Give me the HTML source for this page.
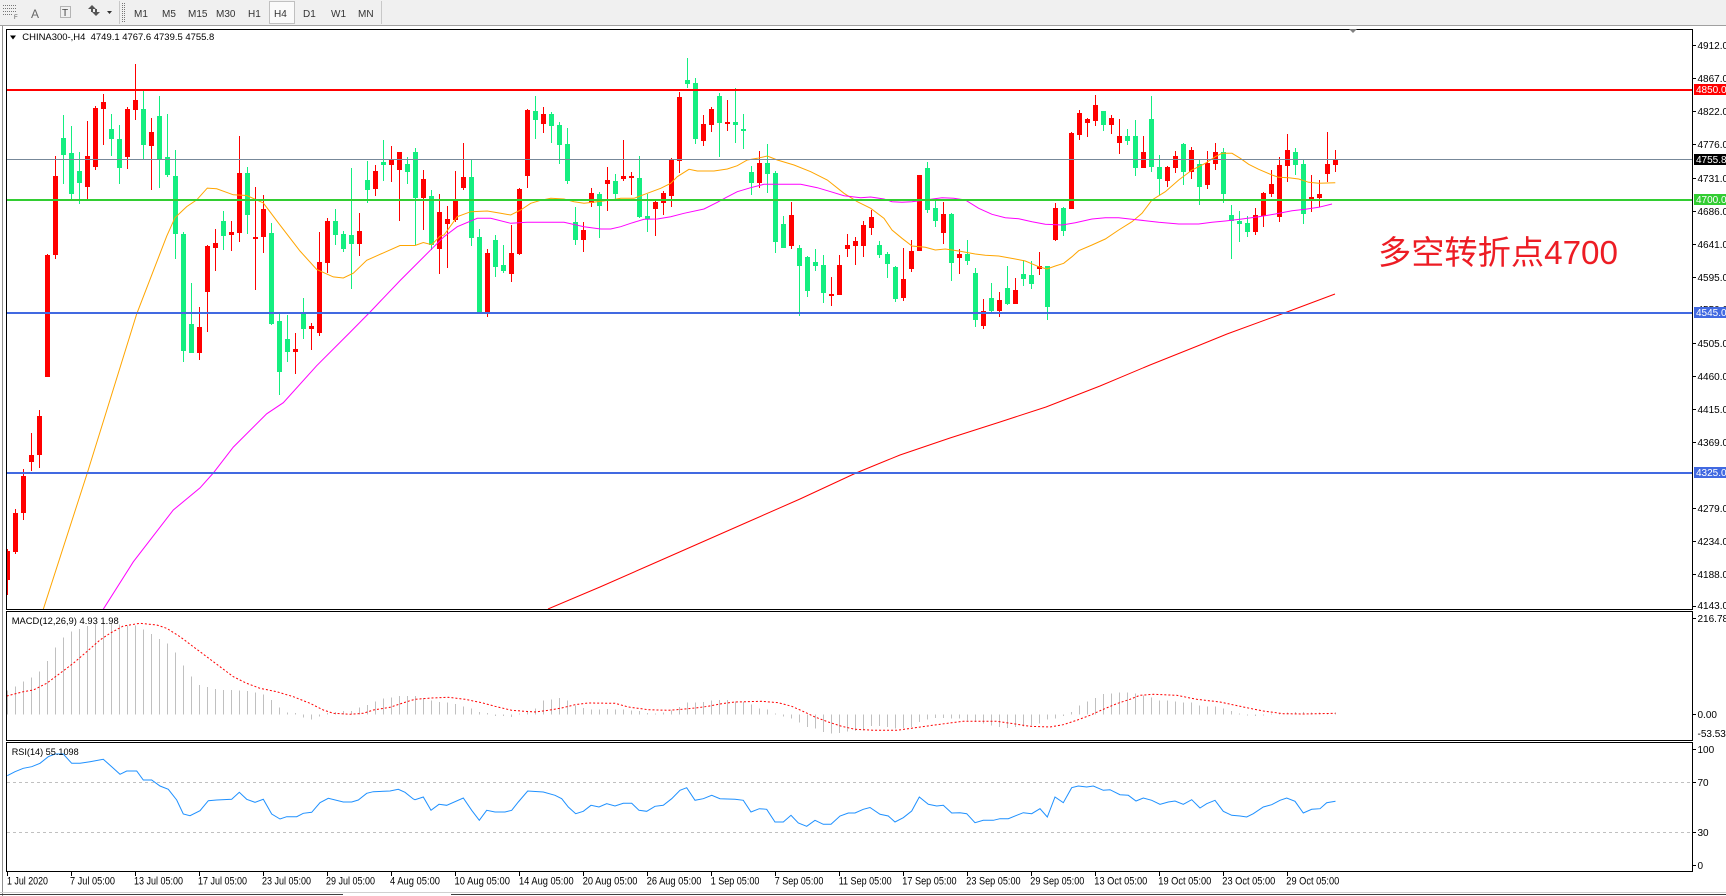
<!DOCTYPE html>
<html><head><meta charset="utf-8"><style>
html,body{margin:0;padding:0;background:#fff;}
body{width:1726px;height:896px;overflow:hidden;}
svg{display:block;font-family:"Liberation Sans","Noto Sans CJK SC",sans-serif;}
</style></head><body>
<svg width="1726" height="896" viewBox="0 0 1726 896" xmlns="http://www.w3.org/2000/svg">
<defs>
<clipPath id="cm"><rect x="7" y="30" width="1685" height="579"/></clipPath>
<clipPath id="cd"><rect x="7" y="612" width="1685" height="128"/></clipPath>
<clipPath id="cr"><rect x="7" y="743" width="1685" height="128"/></clipPath>
</defs>
<rect x="0" y="0" width="1726" height="896" fill="#fff"/>
<!-- toolbar -->
<rect x="0" y="0" width="1726" height="25" fill="#f0f0f0"/>
<line x1="0" y1="25.5" x2="1726" y2="25.5" stroke="#a0a0a0"/>
<g stroke="#777" stroke-dasharray="1 1" shape-rendering="crispEdges">
<line x1="3" y1="5.5" x2="16" y2="5.5"/><line x1="3" y1="8.5" x2="16" y2="8.5"/><line x1="3" y1="11.5" x2="16" y2="11.5"/><line x1="3" y1="14.5" x2="12" y2="14.5"/>
<rect x="60.5" y="6.5" width="10" height="11" fill="none"/>
<line x1="122.5" y1="3" x2="122.5" y2="22"/><line x1="124.5" y1="3" x2="124.5" y2="22"/>
</g>
<text x="14" y="19" font-size="6" fill="#555">F</text>
<text x="31" y="18" font-size="12" fill="#666">A</text>
<text x="62" y="16" font-size="10" fill="#444">T</text>
<path d="M88 9l4-4 4 4h-3v3h-2v-3z M92 12l4 4 4-4h-3v-3h-2v3z" fill="#555"/>
<path d="M107 11h5l-2.5 3z" fill="#333"/>
<line x1="119.5" y1="1" x2="119.5" y2="24" stroke="#c8c8c8"/>
<rect x="269.5" y="1.5" width="25" height="22" fill="#fafafa" stroke="#c0c0c0"/>
<line x1="381.5" y1="1" x2="381.5" y2="24" stroke="#c8c8c8"/>
<g font-size="10" fill="#333">
<text x="134" y="17">M1</text><text x="162" y="17">M5</text><text x="188" y="17">M15</text><text x="216" y="17">M30</text>
<text x="248" y="17">H1</text><text x="274" y="17">H4</text><text x="303" y="17">D1</text><text x="331" y="17">W1</text><text x="358" y="17">MN</text>
</g>
<!-- frames -->
<line x1="2.5" y1="26" x2="2.5" y2="896" stroke="#909090"/>
<g fill="none" stroke="#000" shape-rendering="crispEdges">
<rect x="6.5" y="29.5" width="1686" height="580"/>
<rect x="6.5" y="611.5" width="1686" height="129"/>
<rect x="6.5" y="742.5" width="1686" height="129"/>
</g>
<line x1="0" y1="892.5" x2="1726" y2="892.5" stroke="#d0d0d0"/>
<line x1="0" y1="894.5" x2="343" y2="894.5" stroke="#404040"/>
<line x1="451" y1="894.5" x2="1726" y2="894.5" stroke="#404040"/>

<!-- main chart -->
<g clip-path="url(#cm)">
<g shape-rendering="crispEdges">
<path fill="none" stroke="#ff0000" stroke-width="1" d="M7.5 549V595M15.5 509V554M23.5 469V520M31.5 433V471M39.5 410V468M47.5 254V377M55.5 156V259M87.5 121V199M95.5 106V170M103.5 94V145M127.5 107V169M135.5 64V120M151.5 118V190M199.5 307V360M207.5 245V332M215.5 229V271M231.5 221V251M239.5 136V242M255.5 187V290M263.5 195V253M295.5 333V374M311.5 323V350M319.5 232V336M327.5 218V273M359.5 213V256M375.5 165V196M391.5 146V182M399.5 152V221M423.5 170V230M439.5 194V274M447.5 206V268M455.5 171V222M463.5 143V190M487.5 249V317M511.5 225V282M519.5 188V255M527.5 109V188M543.5 107V133M583.5 222V252M591.5 188V207M607.5 167V211M623.5 140V181M631.5 172V195M655.5 200V236M663.5 191V215M671.5 158V207M679.5 92V173M703.5 115V146M711.5 107V132M727.5 100V131M759.5 151V188M791.5 202V249M831.5 277V306M839.5 255V295M847.5 234V257M855.5 237V265M863.5 221V257M871.5 210V235M903.5 248V301M911.5 240V272M919.5 175V251M943.5 202V244M959.5 249V274M983.5 299V329M999.5 292V317M1015.5 278V304M1039.5 252V275M1055.5 203V241M1071.5 132V209M1079.5 110V140M1087.5 118V137M1095.5 95V126M1111.5 115V134M1119.5 119V154M1143.5 136V168M1167.5 166V187M1175.5 151V173M1191.5 147V179M1207.5 151V189M1215.5 143V170M1255.5 208V235M1263.5 192V227M1271.5 170V197M1279.5 157V222M1287.5 134V182M1311.5 175V212M1319.5 180V207M1327.5 132V182M1335.5 150V172"/>
<path fill="#ff0000" d="M5 551h5v29h-5zM13 513h5v39h-5zM21 476h5v37h-5zM29 455h5v7h-5zM37 416h5v39h-5zM45 255h5v122h-5zM53 176h5v79h-5zM85 156h5v31h-5zM93 108h5v59h-5zM101 102h5v7h-5zM125 109h5v48h-5zM133 100h5v10h-5zM149 132h5v14h-5zM197 327h5v26h-5zM205 246h5v46h-5zM213 243h5v5h-5zM229 232h5v3h-5zM237 173h5v60h-5zM253 237h5v2h-5zM261 209h5v28h-5zM293 349h5v3h-5zM309 326h5v3h-5zM317 262h5v71h-5zM325 221h5v42h-5zM357 231h5v13h-5zM373 171h5v18h-5zM389 160h5v5h-5zM397 152h5v18h-5zM421 179h5v19h-5zM437 212h5v37h-5zM445 219h5v5h-5zM453 200h5v20h-5zM461 177h5v11h-5zM485 253h5v60h-5zM509 253h5v21h-5zM517 189h5v65h-5zM525 110h5v66h-5zM541 114h5v10h-5zM581 230h5v10h-5zM589 193h5v10h-5zM605 180h5v4h-5zM621 176h5v3h-5zM629 176h5v2h-5zM653 202h5v7h-5zM661 193h5v10h-5zM669 160h5v36h-5zM677 97h5v64h-5zM701 124h5v17h-5zM709 109h5v16h-5zM725 122h5v2h-5zM757 163h5v20h-5zM789 215h5v31h-5zM829 294h5v2h-5zM837 265h5v30h-5zM845 245h5v4h-5zM853 241h5v5h-5zM861 225h5v21h-5zM869 217h5v11h-5zM901 279h5v19h-5zM909 251h5v18h-5zM917 175h5v76h-5zM941 214h5v19h-5zM957 254h5v4h-5zM981 311h5v15h-5zM997 300h5v11h-5zM1013 290h5v14h-5zM1037 266h5v3h-5zM1053 208h5v32h-5zM1069 133h5v76h-5zM1077 113h5v22h-5zM1085 119h5v4h-5zM1093 105h5v16h-5zM1109 118h5v7h-5zM1117 136h5v7h-5zM1141 152h5v16h-5zM1165 167h5v14h-5zM1173 156h5v12h-5zM1189 150h5v22h-5zM1205 163h5v22h-5zM1213 152h5v12h-5zM1253 215h5v17h-5zM1261 193h5v23h-5zM1269 184h5v10h-5zM1277 165h5v52h-5zM1285 150h5v16h-5zM1309 197h5v4h-5zM1317 194h5v4h-5zM1325 164h5v10h-5zM1333 159h5v6h-5z"/>
<path fill="none" stroke="#14ee80" stroke-width="1" d="M63.5 115V184M71.5 126V199M79.5 152V204M111.5 114V156M119.5 125V184M143.5 91V159M159.5 96V188M167.5 114V177M175.5 150V259M183.5 232V362M191.5 283V353M223.5 211V250M247.5 167V234M271.5 223V325M279.5 314V395M287.5 315V362M303.5 298V339M335.5 209V245M343.5 231V252M351.5 168V289M367.5 161V203M383.5 140V181M407.5 157V184M415.5 148V245M431.5 190V250M471.5 160V246M479.5 229V313M495.5 235V277M503.5 245V273M535.5 96V139M551.5 112V143M559.5 122V164M567.5 128V184M575.5 207V245M599.5 192V238M615.5 174V199M639.5 156V218M647.5 194V232M687.5 58V88M695.5 78V144M719.5 93V157M735.5 88V143M743.5 114V149M751.5 166V195M767.5 144V193M775.5 171V253M783.5 216V248M799.5 245V316M807.5 256V297M815.5 249V271M823.5 255V303M879.5 241V258M887.5 252V278M895.5 266V302M927.5 162V213M935.5 201V227M951.5 213V281M967.5 240V265M975.5 268V327M991.5 283V312M1007.5 266V305M1023.5 260V286M1031.5 261V289M1047.5 266V320M1063.5 207V236M1103.5 111V131M1127.5 129V145M1135.5 120V176M1151.5 96V172M1159.5 155V195M1183.5 143V185M1199.5 160V205M1223.5 148V203M1231.5 205V259M1239.5 211V242M1247.5 216V237M1295.5 148V175M1303.5 160V224"/>
<path fill="#14ee80" d="M61 138h5v17h-5zM69 153h5v41h-5zM77 171h5v12h-5zM109 129h5v10h-5zM117 139h5v29h-5zM141 109h5v36h-5zM157 116h5v43h-5zM165 157h5v18h-5zM173 176h5v58h-5zM181 234h5v117h-5zM189 324h5v29h-5zM221 221h5v15h-5zM245 173h5v42h-5zM269 233h5v91h-5zM277 321h5v51h-5zM285 339h5v13h-5zM301 313h5v16h-5zM333 221h5v14h-5zM341 234h5v15h-5zM349 235h5v9h-5zM365 180h5v10h-5zM381 162h5v3h-5zM405 164h5v8h-5zM413 152h5v46h-5zM429 196h5v49h-5zM469 177h5v61h-5zM477 237h5v76h-5zM493 240h5v27h-5zM501 265h5v6h-5zM533 111h5v9h-5zM549 114h5v12h-5zM557 125h5v20h-5zM565 144h5v37h-5zM573 222h5v18h-5zM597 194h5v12h-5zM613 181h5v13h-5zM637 178h5v39h-5zM645 216h5v3h-5zM685 80h5v4h-5zM693 83h5v56h-5zM717 96h5v27h-5zM733 122h5v3h-5zM741 129h5v2h-5zM749 172h5v11h-5zM765 163h5v11h-5zM773 173h5v69h-5zM781 224h5v24h-5zM797 248h5v18h-5zM805 257h5v34h-5zM813 262h5v4h-5zM821 265h5v28h-5zM877 245h5v10h-5zM885 254h5v10h-5zM893 267h5v32h-5zM925 168h5v42h-5zM933 208h5v13h-5zM949 214h5v49h-5zM965 254h5v7h-5zM973 273h5v47h-5zM989 298h5v13h-5zM1005 288h5v16h-5zM1021 274h5v5h-5zM1029 275h5v9h-5zM1045 266h5v41h-5zM1061 208h5v23h-5zM1101 111h5v14h-5zM1125 136h5v5h-5zM1133 136h5v32h-5zM1149 119h5v48h-5zM1157 167h5v12h-5zM1181 144h5v28h-5zM1197 164h5v23h-5zM1221 152h5v42h-5zM1229 215h5v6h-5zM1237 221h5v3h-5zM1245 223h5v9h-5zM1293 152h5v13h-5zM1301 164h5v50h-5z"/>
</g>
<polyline fill="none" stroke="#ffa500" stroke-width="1" points="43.3,609.2 87.3,473 136.7,313.9 166.7,236.2 175,217.7 186.7,206.6 196.7,199.9 207.3,188.1 216.7,188.8 233.3,194.8 246.7,195.5 263.3,202.9 280,225.1 300,251 316.7,269.5 333.3,276.9 343.3,278 353.3,273.2 366.7,260.3 383.3,252.9 400,245.5 415,245.5 423.3,242.5 431.7,244.7 440,236.2 444,235 457.3,216.7 470.7,211.7 487.3,211 500.7,213.3 510.7,215 520.7,210 530.7,203.3 540.7,200.3 550.7,198.3 564,199 574,201.7 584,203.3 597.3,201.7 610.7,200 620.7,198.3 634,198.3 647.3,193.3 660.7,188.3 670.7,183.3 677.3,176.7 689,169.3 697.3,171 714,171 727.3,169 737.3,165.7 747.3,160 757.3,158.3 767.3,156 777.3,160 794,165 810.7,171.7 827.3,180 844,193.3 857.3,201.7 870.7,208.3 884,218.3 892,230 902,238.3 912,246 925.3,247.3 935.3,250 945.3,249 958.7,251 975.3,254 985.3,255.3 998.7,256 1015.3,259 1025.3,261 1038.7,266.7 1047,269 1055.3,266 1063.7,263.3 1072,256.7 1078.7,250.7 1092,245 1105.3,239 1118.7,230 1132,221.7 1142,213.3 1152,200 1165.3,191.7 1178.7,180 1192,170 1205.3,163.3 1215.3,156.7 1222,153.3 1232,153.3 1240.3,158.3 1248.7,164.3 1258.7,169.3 1272,175 1278.7,177.3 1288.7,177.7 1298.7,179 1308.7,182.3 1318.7,183.3 1335.3,182.7"/>
<polyline fill="none" stroke="#ff00ff" stroke-width="1" points="103.3,609.2 133.3,561.8 173.3,510 200,487.9 213.3,473 233.3,447.1 266.7,413.8 283.3,402.7 316.7,365.7 350,332.4 370,312.1 400,280.6 433.3,247.3 444,236.7 457.3,226.7 477.3,218.3 490.7,218.3 510.7,223.3 527.3,222.3 564,222.3 584,226.7 600.7,229 610.7,229 620.7,226.7 630.7,223.3 644,219.3 657.3,219 670.7,216.7 684,213.3 704,209 717.3,202.3 725.7,197.7 737.3,191.7 750.7,187.7 764,184.3 777.3,184.3 800.7,184.3 817.3,187.7 830.7,191.7 844,195.7 860.7,197.7 870.7,197 884,199 892,201.7 902,202.3 912,201.7 925.3,200 942,197.7 953.7,198.3 965.3,200 978.7,208.3 992,214.3 1005.3,217.7 1018.7,218.7 1032,221.7 1045.3,224.3 1062,225 1075.3,222.7 1092,219 1105.3,217.7 1118.7,217.7 1132,219.3 1145.3,220.7 1158.7,222.3 1178.7,224 1198.7,224 1212,222.3 1225.3,221 1242,219 1258.7,216.7 1275.3,214 1292,210.7 1305.3,209.3 1318.7,207.3 1332,204"/>
<polyline fill="none" stroke="#ff0000" stroke-width="1" points="548,609 600,587 650,565 700,543 750,521 800,499 856,473 900,455 950,438 1000,422 1046,407 1100,386 1150,365 1200,345 1227,334 1287,312 1335,294"/>
<g shape-rendering="crispEdges">
<line x1="7" y1="159.5" x2="1692" y2="159.5" stroke="#778899" stroke-width="1"/>
<line x1="7" y1="90" x2="1692" y2="90" stroke="#ff0000" stroke-width="2"/>
<line x1="7" y1="200" x2="1692" y2="200" stroke="#32cd32" stroke-width="2"/>
<line x1="7" y1="313" x2="1692" y2="313" stroke="#4169e1" stroke-width="2"/>
<line x1="7" y1="473" x2="1692" y2="473" stroke="#4169e1" stroke-width="2"/>
</g>
</g>
<path d="M1349 29h8l-4 4z" fill="#808080"/>
<path d="M10 35.5h6l-3 4z" fill="#000"/>
<text x="22.3" y="40" font-size="9.5" fill="#000" textLength="192" lengthAdjust="spacingAndGlyphs" style="white-space:pre">CHINA300-,H4  4749.1 4767.6 4739.5 4755.8</text>
<text x="1378" y="264" font-size="33" fill="#ed1c24" textLength="240" lengthAdjust="spacingAndGlyphs">多空转折点4700</text>

<!-- right axis main -->
<g stroke="#000" shape-rendering="crispEdges">
<path d="M1693 45.5h3M1693 78.5h3M1693 111.5h3M1693 144.5h3M1693 178.5h3M1693 211.5h3M1693 244.5h3M1693 277.5h3M1693 343.5h3M1693 376.5h3M1693 409.5h3M1693 442.5h3M1693 508.5h3M1693 541.5h3M1693 574.5h3M1693 606.5h3M1693 618.5h3M1693 714.5h3M1693 749.5h3M1693 782.5h3M1693 832.5h3M1693 865.5h3"/>
</g>
<g font-size="10" fill="#000">
<text x="1697.5" y="49">4912.0</text><text x="1697.5" y="82">4867.0</text><text x="1697.5" y="115">4822.0</text><text x="1697.5" y="148">4776.0</text>
<text x="1697.5" y="182">4731.0</text><text x="1697.5" y="215">4686.0</text><text x="1697.5" y="248">4641.0</text><text x="1697.5" y="281">4595.0</text>
<text x="1697.5" y="313">4550.0</text>
<text x="1697.5" y="347">4505.0</text><text x="1697.5" y="380">4460.0</text><text x="1697.5" y="413">4415.0</text><text x="1697.5" y="446">4369.0</text>
<text x="1697.5" y="512">4279.0</text><text x="1697.5" y="545">4234.0</text><text x="1697.5" y="578">4188.0</text><text x="1697.5" y="609">4143.0</text>
<text x="1697.5" y="622">216.78</text><text x="1697.5" y="718">0.00</text><text x="1697.5" y="737">-53.53</text>
<text x="1697.5" y="753">100</text><text x="1697.5" y="786">70</text><text x="1697.5" y="836">30</text><text x="1697.5" y="869">0</text>
</g>
<g shape-rendering="crispEdges">
<rect x="1694" y="84" width="32" height="11" fill="#ff0000"/>
<rect x="1694" y="154" width="32" height="11" fill="#000"/>
<rect x="1694" y="194" width="32" height="11" fill="#32cd32"/>
<rect x="1694" y="307" width="32" height="11" fill="#4169e1"/>
<rect x="1694" y="467" width="32" height="11" fill="#4169e1"/>
</g>
<g font-size="10" fill="#fff">
<text x="1696" y="93">4850.0</text><text x="1696" y="163">4755.8</text><text x="1696" y="203">4700.0</text><text x="1696" y="316">4545.0</text><text x="1696" y="476">4325.0</text>
</g>

<!-- MACD -->
<g clip-path="url(#cd)">
<path fill="none" stroke="#c0c0c0" stroke-width="1" shape-rendering="crispEdges" d="M7.5 714.5V690.7M15.5 714.5V686.7M23.5 714.5V681.7M31.5 714.5V677.7M39.5 714.5V671.7M47.5 714.5V661M55.5 714.5V647.7M63.5 714.5V637.3M71.5 714.5V631.7M79.5 714.5V629M87.5 714.5V626M95.5 714.5V624M103.5 714.5V623.3M111.5 714.5V624M119.5 714.5V624.3M127.5 714.5V625.3M135.5 714.5V625.7M143.5 714.5V629.3M151.5 714.5V634M159.5 714.5V639M167.5 714.5V643.3M175.5 714.5V652.7M183.5 714.5V665.7M191.5 714.5V676.7M199.5 714.5V685M207.5 714.5V687M215.5 714.5V689M223.5 714.5V690M231.5 714.5V690M239.5 714.5V690.7M247.5 714.5V691M255.5 714.5V692.7M263.5 714.5V694.3M271.5 714.5V700M279.5 714.5V707.7M287.5 714.5V712.7M295.5 714.5V713M303.5 714.5V717.3M311.5 714.5V719.3M319.5 714.5V716.7M327.5 714.5V713M335.5 714.5V712M343.5 714.5V711M351.5 714.5V711M359.5 714.5V707.7M367.5 714.5V705M375.5 714.5V701.7M383.5 714.5V698.7M391.5 714.5V697.3M399.5 714.5V696M407.5 714.5V696M415.5 714.5V696M423.5 714.5V698M431.5 714.5V700.3M439.5 714.5V702M447.5 714.5V702.7M455.5 714.5V704M463.5 714.5V706.3M471.5 714.5V708.7M479.5 714.5V712M487.5 714.5V713.2M495.5 714.5V716M503.5 714.5V716M511.5 714.5V717M519.5 714.5V713.5M527.5 714.5V711.3M535.5 714.5V708.3M543.5 714.5V700.3M551.5 714.5V699.3M559.5 714.5V698M567.5 714.5V700.3M575.5 714.5V705.3M583.5 714.5V708M591.5 714.5V709.3M599.5 714.5V709.7M607.5 714.5V709M615.5 714.5V709.7M623.5 714.5V709.7M631.5 714.5V710.7M639.5 714.5V711M647.5 714.5V713M655.5 714.5V713.5M663.5 714.5V712.7M671.5 714.5V710.7M679.5 714.5V707M687.5 714.5V702.7M695.5 714.5V702.7M703.5 714.5V702M711.5 714.5V700.7M719.5 714.5V700M727.5 714.5V700M735.5 714.5V701.3M743.5 714.5V702M751.5 714.5V704.7M759.5 714.5V708.7M767.5 714.5V709.7M775.5 714.5V713.5M783.5 714.5V716.7M791.5 714.5V718.7M799.5 714.5V722.7M807.5 714.5V727M815.5 714.5V728.7M823.5 714.5V732M831.5 714.5V733.7M839.5 714.5V733M847.5 714.5V731.3M855.5 714.5V731M863.5 714.5V730.3M871.5 714.5V726M879.5 714.5V726M887.5 714.5V727M895.5 714.5V728.7M903.5 714.5V728M911.5 714.5V727M919.5 714.5V722M927.5 714.5V719.3M935.5 714.5V718M943.5 714.5V718M951.5 714.5V718.7M959.5 714.5V718.7M967.5 714.5V720.3M975.5 714.5V722M983.5 714.5V723.7M991.5 714.5V725.3M999.5 714.5V727M1007.5 714.5V728M1015.5 714.5V727M1023.5 714.5V726.3M1031.5 714.5V725.3M1039.5 714.5V723.7M1047.5 714.5V719.7M1055.5 714.5V718.7M1063.5 714.5V715.8M1071.5 714.5V712M1079.5 714.5V705.3M1087.5 714.5V701.3M1095.5 714.5V698M1103.5 714.5V694M1111.5 714.5V693.3M1119.5 714.5V692.3M1127.5 714.5V692.3M1135.5 714.5V693.7M1143.5 714.5V695.3M1151.5 714.5V697.3M1159.5 714.5V700.3M1167.5 714.5V700.7M1175.5 714.5V701.3M1183.5 714.5V702.7M1191.5 714.5V702.7M1199.5 714.5V705.3M1207.5 714.5V706.3M1215.5 714.5V706.7M1223.5 714.5V708.7M1231.5 714.5V711M1239.5 714.5V713.5M1247.5 714.5V715.5M1255.5 714.5V716M1263.5 714.5V715.5M1271.5 714.5V713.5M1279.5 714.5V713.5M1287.5 714.5V712.7M1295.5 714.5V712M1303.5 714.5V712M1311.5 714.5V712.3M1319.5 714.5V712.7M1327.5 714.5V713M1335.5 714.5V712.3"/>
<polyline fill="none" stroke="#ff0000" stroke-width="1" stroke-dasharray="2 2" points="6.7,696 23.3,691.7 33.3,690 46.7,683.3 60,673.3 73.3,663.3 86.7,651.7 100,640 110,633.3 123.3,626 140,623.3 156.7,625 166.7,628.3 180,636.7 193.3,646.7 206.7,656.7 220,666.7 233.3,676.7 246.7,683.3 260,688.3 276.7,691.7 293.3,696.7 310,703.3 323.3,710 333.3,713.3 350,714.3 363.3,713.3 373.3,710 390,707.3 406.7,701.7 415,699.3 431.7,698 448.3,697.3 465,699.3 481.7,702.7 495,706.3 511.7,710.3 525,711.3 535,712 548.3,710.3 561.7,708 575,704.7 588.3,703 615,703.3 628.3,707 648.3,709.7 668.3,710.3 681.7,709.3 695,708 708.3,706.3 721.7,703.7 735,702 761.7,701.3 778.3,702.7 791.7,706.3 801.7,710.7 815,717 828.3,722 841.7,726.3 855,729.3 875,730.3 896.7,730.3 913.3,728 936.7,724.7 963.3,721.3 996.7,721.3 1013.3,723.7 1030,726.3 1050,727 1063.3,724.7 1076.7,720.3 1090,715.3 1103.3,709.3 1116.7,703.7 1130,699.3 1140,695.3 1153.3,694.3 1176.7,695.3 1196.7,699.3 1220,702 1246.7,707.7 1263.3,711 1283.3,713.7 1303.3,714 1335.5,713.3"/>
</g>
<text x="11.7" y="624" font-size="9.5" fill="#000" textLength="107" lengthAdjust="spacingAndGlyphs">MACD(12,26,9) 4.93 1.98</text>

<!-- RSI -->
<g clip-path="url(#cr)">
<line x1="7" y1="782.5" x2="1692" y2="782.5" stroke="#c0c0c0" stroke-dasharray="3 3" shape-rendering="crispEdges"/>
<line x1="7" y1="832.5" x2="1692" y2="832.5" stroke="#c0c0c0" stroke-dasharray="3 3" shape-rendering="crispEdges"/>
<polyline fill="none" stroke="#1e90ff" stroke-width="1" points="7.3,775.7 15,771.7 23.3,768.3 31.7,766.7 40,763.3 48.3,756.7 55,754 63.3,754 71.7,763.3 80,763.3 90,761.7 103.3,759.3 111.7,766.7 120,774.3 126.7,771 136.7,771 143.3,780 151.7,780 160,786 168.3,789.3 176.7,800 183.3,814 190,815.7 200,810.7 208.3,800.7 216.7,800 231.7,799.3 239.3,792.3 246.7,799.3 255,802.3 263.3,799.3 271.7,814 280,819 286.7,816.7 296.7,816.7 303.3,813.3 311.7,812.3 320,802.7 328.3,798.3 343.3,802 351.7,802 358.3,800 366.7,793.3 373.3,791.7 390,791 398.3,789.3 405,792.3 413.3,799 415,799.7 423.3,797 431,810.3 439,804.3 446.7,805.3 463.3,798 471.7,810.3 479.3,820.3 486.7,810.3 495,812 505,812 511.7,810.3 518.3,802 527.7,791 543.3,792 555,795.3 561.7,798.7 568.3,807 575.7,813.7 583.3,811.3 591,805.3 599,807 606.7,803.7 615,806 623.3,803.3 631.7,803.3 639,810.3 646.7,811.3 655,806.3 663.3,805.3 671.7,798.7 680,790.3 686.7,787.7 695,800.3 703.3,798.7 711.7,795.3 720,798.7 735,799.3 743.3,800.3 751,812 759.3,808.7 766.7,809.3 775,822 783.3,822 791,815.3 798.3,823 806.7,826.3 815,820.3 823.3,824.3 831,824.3 840,816 848.3,813 855,813 863.3,809.3 870,807.5 880,814.3 888.3,816 895,822 903.3,817.7 911.7,811 919.3,797 928.3,804.3 936.7,806 943.3,805.3 951.7,813 960,812.7 966.7,813.7 975,822.7 983.3,820.3 993.3,820.3 1000,818.7 1008.3,818.7 1016.7,815.3 1023.3,812.7 1031.7,813.7 1040,808.7 1047.3,817 1055,797 1063.3,802.7 1071.7,787.7 1078.3,786 1086.7,787 1093.3,786 1103.3,790.3 1110,789.7 1120,794.7 1128.3,795.3 1136,801 1143.3,798 1151.7,800.3 1160,804.3 1168.3,802 1175,801 1183.3,804.3 1191.7,799.7 1200,808 1206.7,803.7 1215,800.3 1223.3,811.3 1231.7,815.3 1240,816 1246.7,817 1253.3,813.7 1263.3,807 1271.7,804.7 1280,800.3 1286.7,798 1295,801.3 1303.3,813 1311.7,809.3 1320,808.7 1326.7,802.7 1335.5,801.3"/>
</g>
<text x="11.7" y="755" font-size="9.5" fill="#000" textLength="67" lengthAdjust="spacingAndGlyphs">RSI(14) 55.1098</text>

<!-- time axis -->
<path stroke="#000" shape-rendering="crispEdges" d="M7.5 871V876M71.5 871V876M135.5 871V876M199.5 871V876M263.5 871V876M327.5 871V876M391.5 871V876M455.5 871V876M519.5 871V876M583.5 871V876M647.5 871V876M711.5 871V876M775.5 871V876M839.5 871V876M903.5 871V876M967.5 871V876M1031.5 871V876M1095.5 871V876M1159.5 871V876M1223.5 871V876M1287.5 871V876"/>
<g font-size="11" fill="#000" lengthAdjust="spacingAndGlyphs">
<text x="7" y="884.5" textLength="41" lengthAdjust="spacingAndGlyphs">1 Jul 2020</text>
<text x="70" y="884.5" textLength="45" lengthAdjust="spacingAndGlyphs">7 Jul 05:00</text>
<text x="134" y="884.5" textLength="49" lengthAdjust="spacingAndGlyphs">13 Jul 05:00</text>
<text x="198" y="884.5" textLength="49" lengthAdjust="spacingAndGlyphs">17 Jul 05:00</text>
<text x="262" y="884.5" textLength="49" lengthAdjust="spacingAndGlyphs">23 Jul 05:00</text>
<text x="326" y="884.5" textLength="49" lengthAdjust="spacingAndGlyphs">29 Jul 05:00</text>
<text x="390" y="884.5" textLength="50" lengthAdjust="spacingAndGlyphs">4 Aug 05:00</text>
<text x="454.5" y="884.5" textLength="55.5" lengthAdjust="spacingAndGlyphs">10 Aug 05:00</text>
<text x="519" y="884.5" textLength="54.7" lengthAdjust="spacingAndGlyphs">14 Aug 05:00</text>
<text x="582.7" y="884.5" textLength="54.7" lengthAdjust="spacingAndGlyphs">20 Aug 05:00</text>
<text x="646.7" y="884.5" textLength="54.7" lengthAdjust="spacingAndGlyphs">26 Aug 05:00</text>
<text x="710.7" y="884.5" textLength="48.7" lengthAdjust="spacingAndGlyphs">1 Sep 05:00</text>
<text x="774.7" y="884.5" textLength="48.7" lengthAdjust="spacingAndGlyphs">7 Sep 05:00</text>
<text x="838.7" y="884.5" textLength="53" lengthAdjust="spacingAndGlyphs">11 Sep 05:00</text>
<text x="902.3" y="884.5" textLength="54.3" lengthAdjust="spacingAndGlyphs">17 Sep 05:00</text>
<text x="966.3" y="884.5" textLength="54.3" lengthAdjust="spacingAndGlyphs">23 Sep 05:00</text>
<text x="1030.3" y="884.5" textLength="54" lengthAdjust="spacingAndGlyphs">29 Sep 05:00</text>
<text x="1094.3" y="884.5" textLength="53" lengthAdjust="spacingAndGlyphs">13 Oct 05:00</text>
<text x="1158.3" y="884.5" textLength="53" lengthAdjust="spacingAndGlyphs">19 Oct 05:00</text>
<text x="1222.3" y="884.5" textLength="53" lengthAdjust="spacingAndGlyphs">23 Oct 05:00</text>
<text x="1286.3" y="884.5" textLength="53" lengthAdjust="spacingAndGlyphs">29 Oct 05:00</text>
</g>
</svg>
</body></html>
